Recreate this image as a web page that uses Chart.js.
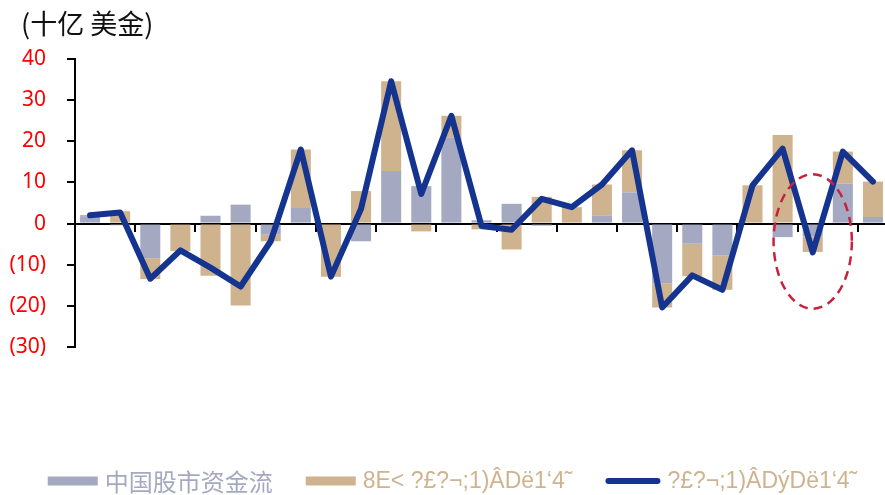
<!DOCTYPE html>
<html>
<head>
<meta charset="utf-8">
<script src="https://cdn.jsdelivr.net/npm/chart.js@4.4.0/dist/chart.umd.min.js"></script>
<style>
    html, body { margin: 0; padding: 0; background: #fff; overflow: hidden; }
    #wrap { width: 888px; height: 495px; position: relative; }
</style>
</head>
<body>
<div id="wrap"><canvas id="flowChart"></canvas></div>
<script>
// periods (monthly)
var periods = ['1', '2', '3', '4', '5', '6', '7', '8', '9', '10', '11', '12', '13', '14',
    '15', '16', '17', '18', '19', '20', '21', '22', '23', '24', '25', '26', '27'];

// 中国股市资金流
var equityFlow = [1.8, -0.4, -8.4, 0, 1.9, 4.6, -2.7, 3.8, 0, -4.3, 12.8, 9.1, 21.0, 0.8,
    4.8, -0.5, 0, 2.0, 7.6, -14.5, -4.9, -7.8, 0, -3.3, -3.1, 9.7, 1.6];

// second bar series
var otherFlow = [0.3, 3.0, -5.1, -6.7, -12.7, -19.9, -1.6, 14.2, -12.9, 7.9, 21.8, -1.9, 5.2, -1.4,
    -6.3, 6.5, 4.0, 7.5, 10.2, -5.9, -7.9, -8.3, 9.3, 21.5, -3.8, 7.8, 8.6];

// total line
var totalFlow = [2.0, 2.7, -13.4, -6.5, -10.7, -15.3, -4.3, 18.0, -12.9, 3.6, 34.6, 7.2, 26.2, -0.6,
    -1.5, 6.0, 4.0, 9.5, 17.8, -20.4, -12.6, -16.1, 9.3, 18.2, -7.0, 17.5, 10.2];

var yTicks = [-30, -20, -10, 0, 10, 20, 30, 40];

var seriesNames = ['中国股市资金流', '8E< ?£?¬;1)ÂDë1‘4˜', '?£?¬;1)ÂDýDë1‘4˜'];

var GREY = '#A4A9C1';
var TAN = '#CFB38F';
var NAVY = '#15348F';

// unit title, top left
var unitTitle = {
    id: 'unitTitle',
    afterDraw: function (chart) {
        var ctx = chart.ctx;
        ctx.save();
        ctx.font = '27px "Noto Sans CJK SC", sans-serif';
        ctx.fillStyle = '#111';
        ctx.textBaseline = 'middle';
        ctx.textAlign = 'left';
        ctx.fillText('(十亿 美金)', 21, 24);
        ctx.restore();
    }
};

// dashed red ring around the 25th period
var ring = {
    id: 'ring',
    afterDatasetsDraw: function (chart) {
        var x = chart.scales.x, y = chart.scales.y, ctx = chart.ctx;
        var step = x.getPixelForValue(1) - x.getPixelForValue(0);
        var cx = x.getPixelForValue(24);
        var top = y.getPixelForValue(12), bottom = y.getPixelForValue(-20.7);
        ctx.save();
        ctx.beginPath();
        ctx.ellipse(cx, (top + bottom) / 2, step * 1.3, (bottom - top) / 2, 0, 0, Math.PI * 2);
        ctx.setLineDash([9, 6]);
        ctx.lineWidth = 2.5;
        ctx.strokeStyle = '#C8213E';
        ctx.stroke();
        ctx.restore();
    }
};

// legend row under the plot
var bottomLegend = {
    id: 'bottomLegend',
    afterDraw: function (chart) {
        var ctx = chart.ctx;
        var textColors = [GREY, TAN, TAN];
        var fonts = ['24px "Noto Sans CJK SC", sans-serif', '23px "Liberation Sans", Arial, sans-serif', '23px "Liberation Sans", Arial, sans-serif'];
        var boxW = 50, gapText = 7, gapItem = 33, cy = 481;
        ctx.save();
        ctx.textBaseline = 'middle';
        ctx.textAlign = 'left';
        var items = chart.data.datasets.map(function (ds, i) {
            ctx.font = fonts[i];
            return { ds: ds, i: i, textW: ctx.measureText(ds.label).width };
        });
        var total = 0;
        items.forEach(function (it, k) {
            total += boxW + gapText + it.textW + (k > 0 ? gapItem : 0);
        });
        var x = 450 - total / 2;
        items.forEach(function (it) {
            if (it.ds.type === 'line') {
                ctx.beginPath();
                ctx.moveTo(x + 3, cy);
                ctx.lineTo(x + boxW + 2, cy);
                ctx.lineWidth = 6;
                ctx.lineCap = 'round';
                ctx.strokeStyle = it.ds.borderColor;
                ctx.stroke();
                x += 5;
            } else {
                ctx.fillStyle = it.ds.backgroundColor;
                ctx.fillRect(x, cy - 4.5, boxW, 9);
            }
            x += boxW + gapText;
            ctx.font = fonts[it.i];
            ctx.fillStyle = textColors[it.i];
            ctx.fillText(it.ds.label, x, cy + 1);
            x += it.textW + gapItem;
        });
        ctx.restore();
    }
};

var ctx = document.getElementById('flowChart');
var myChart = new Chart(ctx, {
    type: 'bar',
    data: {
        labels: periods,
        datasets: [{
            label: seriesNames[0],
            data: equityFlow,
            backgroundColor: GREY,
            order: 1
        }, {
            label: seriesNames[1],
            data: otherFlow,
            backgroundColor: TAN,
            order: 1
        }, {
            type: 'line',
            label: seriesNames[2],
            data: totalFlow,
            stack: 'total',
            borderColor: NAVY,
            backgroundColor: NAVY,
            borderWidth: 6,
            borderCapStyle: 'round',
            borderJoinStyle: 'round',
            pointRadius: 0,
            tension: 0,
            order: 0
        }]
    },
    options: {
        responsive: true,
        maintainAspectRatio: false,
        animation: false,
        datasets: {
            bar: { barPercentage: 0.665, categoryPercentage: 1 }
        },
        layout: {
            padding: { top: 59, left: 0, right: 0, bottom: 148 }
        },
        scales: {
            x: {
                stacked: true,
                position: { y: 0 },
                ticks: { display: false },
                grid: {
                    drawOnChartArea: false,
                    drawTicks: true,
                    tickLength: 7,
                    lineWidth: 2,
                    color: function (c) {
                        return (c.index > 0 && c.index < periods.length && c.index % 2 === 0) ? '#000' : 'rgba(0,0,0,0)';
                    }
                },
                border: { display: true, color: '#000', width: 2 }
            },
            y: {
                stacked: true,
                min: -30,
                max: 40,
                afterBuildTicks: function (scale) {
                    scale.ticks = yTicks.map(function (v) { return { value: v }; });
                },
                afterFit: function (scale) {
                    scale.width = 75;
                },
                ticks: {
                    color: '#FF0000',
                    padding: 21,
                    font: { family: '"Noto Sans", sans-serif', size: 21 },
                    callback: function (v) {
                        return v < 0 ? '(' + (-v) + ')' : String(v);
                    }
                },
                grid: {
                    drawOnChartArea: false,
                    drawTicks: true,
                    tickLength: 8,
                    lineWidth: 2,
                    color: '#000'
                },
                border: { display: true, color: '#000', width: 2 }
            }
        },
        plugins: {
            tooltip: { enabled: false },
            legend: { display: false }
        }
    },
    plugins: [ring, unitTitle, bottomLegend]
});
</script>
</body>
</html>
